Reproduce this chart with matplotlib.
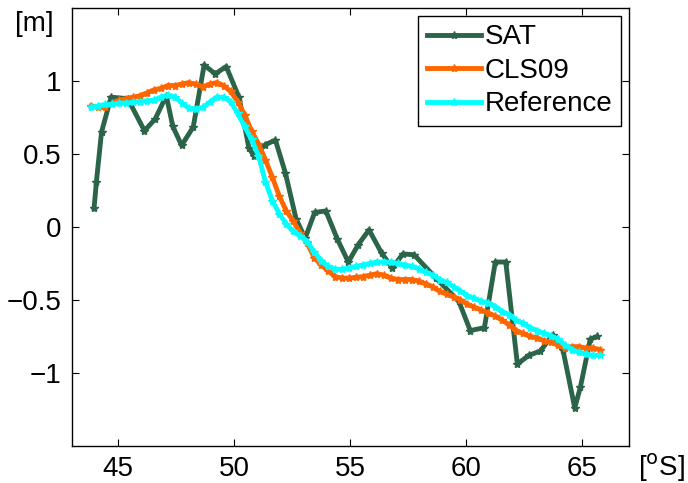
import matplotlib
matplotlib.use("Agg")
import matplotlib.pyplot as plt
import numpy as np

plt.rcParams['font.family'] = ['Liberation Sans', 'DejaVu Sans']

# SAT profile (sparse, noisy)
sat_lat = [43.97, 44.07, 44.29, 44.70, 45.42, 46.14, 46.60, 47.08, 47.36, 47.74,
           48.24, 48.71, 49.19, 49.66, 50.21, 50.64, 50.85, 51.35, 51.78, 52.21,
           52.67, 53.06, 53.47, 53.95, 54.45, 54.92, 55.35, 55.81, 56.36, 56.81,
           57.27, 57.75, 58.69, 59.68, 60.17, 60.78, 61.25, 61.70, 62.20, 62.69,
           63.19, 63.72, 64.16, 64.67, 64.91, 65.34, 65.63]
sat_h = [0.13, 0.31, 0.65, 0.89, 0.88, 0.66, 0.74, 0.90, 0.69, 0.56,
         0.685, 1.11, 1.05, 1.10, 0.89, 0.54, 0.49, 0.565, 0.596, 0.37,
         0.055, -0.077, 0.10, 0.11, -0.084, -0.24, -0.12, -0.02, -0.18, -0.28,
         -0.185, -0.19, -0.35, -0.51, -0.71, -0.69, -0.24, -0.24, -0.94, -0.88,
         -0.85, -0.74, -0.84, -1.24, -1.10, -0.77, -0.75]

# dense model profiles
lat = [43.85, 44.15, 44.45, 44.75, 45.05, 45.35, 45.65, 45.95, 46.25, 46.55,
       46.85, 47.15, 47.45, 47.75, 48.05, 48.35, 48.65, 48.95, 49.25, 49.55,
       49.85, 50.15, 50.45, 50.75, 51.05, 51.35, 51.65, 51.95, 52.25, 52.55,
       52.85, 53.15, 53.45, 53.75, 54.05, 54.35, 54.65, 54.95, 55.25, 55.55,
       55.85, 56.15, 56.45, 56.75, 57.05, 57.35, 57.65, 57.95, 58.25, 58.55,
       58.85, 59.15, 59.45, 59.75, 60.05, 60.35, 60.65, 60.95, 61.25, 61.55,
       61.85, 62.15, 62.45, 62.75, 63.05, 63.35, 63.65, 63.95, 64.25, 64.55,
       64.85, 65.15, 65.45, 65.75]
cls09 = [0.83, 0.82, 0.82, 0.85, 0.87, 0.88, 0.89, 0.90, 0.92, 0.94,
         0.95, 0.97, 0.97, 0.98, 0.99, 0.98, 0.96, 0.98, 0.99, 0.97,
         0.93, 0.86, 0.77, 0.66, 0.57, 0.46, 0.34, 0.21, 0.11, 0.04,
         -0.04, -0.11, -0.21, -0.26, -0.30, -0.34, -0.35, -0.35, -0.345, -0.34,
         -0.33, -0.32, -0.33, -0.35, -0.36, -0.36, -0.36, -0.37, -0.39, -0.41,
         -0.44, -0.46, -0.48, -0.50, -0.53, -0.55, -0.57, -0.59, -0.61, -0.64,
         -0.67, -0.71, -0.73, -0.75, -0.76, -0.78, -0.79, -0.81, -0.83, -0.82,
         -0.82, -0.83, -0.83, -0.84]
ref = [0.82, 0.83, 0.84, 0.84, 0.85, 0.85, 0.855, 0.86, 0.865, 0.87,
       0.89, 0.905, 0.89, 0.85, 0.815, 0.81, 0.82, 0.855, 0.89, 0.89,
       0.86, 0.78, 0.69, 0.60, 0.49, 0.31, 0.18, 0.09, 0.02, -0.03,
       -0.06, -0.10, -0.17, -0.23, -0.27, -0.29, -0.29, -0.28, -0.27, -0.26,
       -0.25, -0.24, -0.24, -0.24, -0.25, -0.26, -0.27, -0.285, -0.31, -0.33,
       -0.36, -0.38, -0.41, -0.44, -0.47, -0.49, -0.51, -0.52, -0.545, -0.58,
       -0.60, -0.64, -0.66, -0.69, -0.71, -0.73, -0.745, -0.77, -0.81, -0.84,
       -0.86, -0.87, -0.88, -0.88]

xticks = [45, 50, 55, 60, 65]
yticks = [-1, -0.5, 0, 0.5, 1]
yticklabels = ['\u22121', '\u22120.5', '0', '0.5', '1']

fig = plt.figure(figsize=(6.88, 4.83), dpi=100)
ax = fig.add_axes([0.104, 0.077, 0.81, 0.906])

ax.plot(sat_lat, sat_h, color='#2b6448', lw=3.5, marker='*', ms=6, label='SAT')
ax.plot(lat, cls09, color='#ff6600', lw=3.5, marker='*', ms=6, label='CLS09')
ax.plot(lat, ref, color='#00ffff', lw=3.5, marker='*', ms=6, label='Reference')

ax.set_xlim(43, 67)
ax.set_ylim(-1.5, 1.5)
ax.set_xticks(xticks)
ax.set_yticks(yticks)
ax.set_yticklabels(yticklabels)
ax.tick_params(direction='in', top=True, right=True, length=5, width=0.8,
               labelsize=20, pad=7)
for s in ax.spines.values():
    s.set_linewidth(1.0)

leg = ax.legend(loc='upper right', fontsize=20, handlelength=1.95,
                handletextpad=0.15, borderpad=0.3, labelspacing=0.27,
                borderaxespad=0.28, fancybox=False, edgecolor='black',
                framealpha=1)
leg.get_frame().set_linewidth(1.0)

fig.text(0.022, 0.935, '[m]', fontsize=20)
fig.text(0.928, 0.015, '[$^{\\mathrm{o}}$S]', fontsize=20)

fig.savefig('out.png', dpi=100)
